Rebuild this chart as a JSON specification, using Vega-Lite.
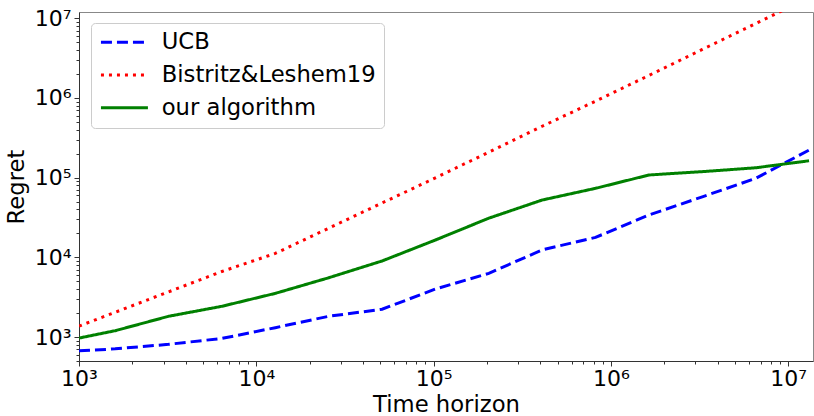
{
  "$schema": "https://vega.github.io/schema/vega-lite/v6.json",
  "autosize": "none",
  "width": 734,
  "height": 349,
  "padding": {"left": 79, "top": 12, "right": 1, "bottom": 55},
  "background": "white",
  "config": {
    "font": "DejaVu Sans",
    "view": {"stroke": "#888888", "strokeWidth": 1},
    "axis": {
      "grid": false,
      "domainColor": "#333333",
      "domainWidth": 1,
      "tickColor": "#333333",
      "labelColor": "black",
      "titleColor": "black",
      "labelFont": "DejaVu Sans",
      "titleFont": "DejaVu Sans",
      "labelFontSize": 22,
      "titleFontSize": 22.7,
      "titleFontWeight": "normal",
      "labelOverlap": false,
      "labelFlush": false,
      "labelBound": false
    },
    "legend": {
      "title": null,
      "orient": "none",
      "legendX": 12,
      "legendY": 11,
      "symbolType": "M-1,0L4,0",
      "symbolSize": 353,
      "symbolStrokeWidth": 3,
      "labelFontSize": 22.7,
      "labelFont": "DejaVu Sans",
      "labelColor": "black",
      "labelOffset": 40,
      "labelLimit": 400,
      "rowPadding": 8.7,
      "padding": 8,
      "strokeColor": "#cccccc",
      "fillColor": "white",
      "cornerRadius": 4
    }
  },
  "data": {
    "values": [
      {"T": 1000, "regret": 670, "algorithm": "UCB"},
      {"T": 1600, "regret": 710, "algorithm": "UCB"},
      {"T": 3200, "regret": 810, "algorithm": "UCB"},
      {"T": 6400, "regret": 960, "algorithm": "UCB"},
      {"T": 12800, "regret": 1310, "algorithm": "UCB"},
      {"T": 25600, "regret": 1820, "algorithm": "UCB"},
      {"T": 51200, "regret": 2230, "algorithm": "UCB"},
      {"T": 102400, "regret": 4000, "algorithm": "UCB"},
      {"T": 204800, "regret": 6300, "algorithm": "UCB"},
      {"T": 409600, "regret": 12400, "algorithm": "UCB"},
      {"T": 819200, "regret": 17800, "algorithm": "UCB"},
      {"T": 1638400, "regret": 34000, "algorithm": "UCB"},
      {"T": 3276800, "regret": 57500, "algorithm": "UCB"},
      {"T": 6553600, "regret": 98000, "algorithm": "UCB"},
      {"T": 13107200, "regret": 222000, "algorithm": "UCB"},
      {"T": 1000, "regret": 1370, "algorithm": "Bistritz&Leshem19"},
      {"T": 1600, "regret": 2046, "algorithm": "Bistritz&Leshem19"},
      {"T": 3200, "regret": 3690, "algorithm": "Bistritz&Leshem19"},
      {"T": 6400, "regret": 6650, "algorithm": "Bistritz&Leshem19"},
      {"T": 12800, "regret": 11200, "algorithm": "Bistritz&Leshem19"},
      {"T": 25600, "regret": 23200, "algorithm": "Bistritz&Leshem19"},
      {"T": 51200, "regret": 48100, "algorithm": "Bistritz&Leshem19"},
      {"T": 102400, "regret": 99500, "algorithm": "Bistritz&Leshem19"},
      {"T": 204800, "regret": 209000, "algorithm": "Bistritz&Leshem19"},
      {"T": 409600, "regret": 442000, "algorithm": "Bistritz&Leshem19"},
      {"T": 819200, "regret": 912000, "algorithm": "Bistritz&Leshem19"},
      {"T": 1638400, "regret": 1920000, "algorithm": "Bistritz&Leshem19"},
      {"T": 3276800, "regret": 4070000, "algorithm": "Bistritz&Leshem19"},
      {"T": 6553600, "regret": 8600000, "algorithm": "Bistritz&Leshem19"},
      {"T": 13107200, "regret": 18200000, "algorithm": "Bistritz&Leshem19"},
      {"T": 1000, "regret": 970, "algorithm": "our algorithm"},
      {"T": 1600, "regret": 1200, "algorithm": "our algorithm"},
      {"T": 3200, "regret": 1820, "algorithm": "our algorithm"},
      {"T": 6400, "regret": 2430, "algorithm": "our algorithm"},
      {"T": 12800, "regret": 3530, "algorithm": "our algorithm"},
      {"T": 25600, "regret": 5540, "algorithm": "our algorithm"},
      {"T": 51200, "regret": 9000, "algorithm": "our algorithm"},
      {"T": 102400, "regret": 16500, "algorithm": "our algorithm"},
      {"T": 204800, "regret": 31000, "algorithm": "our algorithm"},
      {"T": 409600, "regret": 52400, "algorithm": "our algorithm"},
      {"T": 819200, "regret": 73500, "algorithm": "our algorithm"},
      {"T": 1638400, "regret": 108000, "algorithm": "our algorithm"},
      {"T": 3276800, "regret": 119000, "algorithm": "our algorithm"},
      {"T": 6553600, "regret": 133000, "algorithm": "our algorithm"},
      {"T": 13107200, "regret": 163000, "algorithm": "our algorithm"}
    ]
  },
  "mark": {"type": "line", "clip": true, "strokeWidth": 3},
  "encoding": {
    "x": {
      "field": "T",
      "type": "quantitative",
      "scale": {"type": "log", "domain": [1000, 13800000], "nice": false, "zero": false},
      "axis": {
        "title": "Time horizon",
        "titlePadding": 4,
        "labelPadding": 2,
        "values": [1000,2000,3000,4000,5000,6000,7000,8000,9000,10000,20000,30000,40000,50000,60000,70000,80000,90000,100000,200000,300000,400000,500000,600000,700000,800000,900000,1000000,2000000,3000000,4000000,5000000,6000000,7000000,8000000,9000000,10000000],
        "labelExpr": "abs(log(datum.value)/LN10 - round(log(datum.value)/LN10)) < 1e-6 ? '10' + ['⁰','¹','²','³','⁴','⁵','⁶','⁷','⁸'][round(log(datum.value)/LN10)] : ''",
        "tickSize": {"condition": {"test": "abs(log(datum.value)/LN10 - round(log(datum.value)/LN10)) < 1e-6", "value": 5}, "value": 3}
      }
    },
    "y": {
      "field": "regret",
      "type": "quantitative",
      "scale": {"type": "log", "domain": [500, 12000000], "nice": false, "zero": false},
      "axis": {
        "title": "Regret",
        "titlePadding": 6,
        "labelPadding": 3,
        "values": [500,600,700,800,900,1000,2000,3000,4000,5000,6000,7000,8000,9000,10000,20000,30000,40000,50000,60000,70000,80000,90000,100000,200000,300000,400000,500000,600000,700000,800000,900000,1000000,2000000,3000000,4000000,5000000,6000000,7000000,8000000,9000000,10000000],
        "labelExpr": "abs(log(datum.value)/LN10 - round(log(datum.value)/LN10)) < 1e-6 ? '10' + ['⁰','¹','²','³','⁴','⁵','⁶','⁷','⁸'][round(log(datum.value)/LN10)] : ''",
        "tickSize": {"condition": {"test": "abs(log(datum.value)/LN10 - round(log(datum.value)/LN10)) < 1e-6", "value": 5}, "value": 3}
      }
    },
    "color": {
      "field": "algorithm",
      "type": "nominal",
      "scale": {"domain": ["UCB", "Bistritz&Leshem19", "our algorithm"], "range": ["#0000ff", "#ff0000", "#008000"]}
    },
    "strokeDash": {
      "field": "algorithm",
      "type": "nominal",
      "scale": {"domain": ["UCB", "Bistritz&Leshem19", "our algorithm"], "range": [[11, 5], [3, 5], [1, 0]]}
    }
  }
}
